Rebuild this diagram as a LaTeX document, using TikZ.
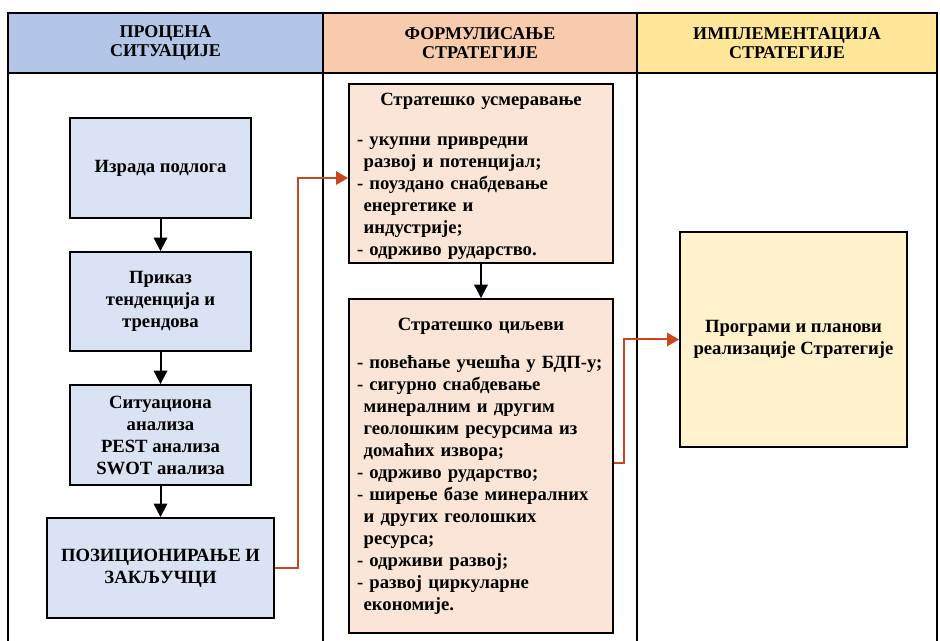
\documentclass[tikz,border=0pt]{standalone}
\usepackage{fontspec}
\setmainfont{Liberation Serif}
\usetikzlibrary{arrows.meta,positioning}

\definecolor{zagPlava}{HTML}{B4C6E7}
\definecolor{zagNarandz}{HTML}{F8CBAD}
\definecolor{zagZuta}{HTML}{FFE699}
\definecolor{kutPlava}{HTML}{DAE3F3}
\definecolor{kutNarandz}{HTML}{FBE5D6}
\definecolor{kutZuta}{HTML}{FFF2CC}
\definecolor{bojaVeze}{HTML}{C9461E}

\newcommand{\stavka}[1]{\par\hangindent=5pt\hangafter=1 - #1}

\begin{document}
\begin{tikzpicture}[x=0.75pt, y=-0.75pt,
    tabela/.style={line width=1.5pt, black},
    zaglavlje/.style={font=\bfseries\fontsize{13.5}{14.3}\selectfont, align=center},
    kutija/.style={draw, line width=1.4pt, font=\bfseries\fontsize{14}{16.5}\selectfont, align=center, inner sep=4pt},
    strelica/.style={line width=1.5pt, -{Triangle[width=10pt,length=10pt]}},
    crvenaVeza/.style={draw=bojaVeze, line width=1.5pt, -{Triangle[width=10pt,length=9pt,fill=bojaVeze]}}]
    \useasboundingbox (0,0) rectangle (940,641);

    % zaglavlje tabele
    \fill[zagPlava] (8,13) rectangle (323,73);
    \fill[zagNarandz] (323,13) rectangle (637,73);
    \fill[zagZuta] (637,13) rectangle (937,73);
    \draw[tabela] (8,645) -- (8,13) -- (937,13) -- (937,645);
    \draw[tabela] (8,73) -- (937,73);
    \draw[tabela] (323,13) -- (323,645);
    \draw[tabela] (637,13) -- (637,645);

    \node[zaglavlje] (z1) at (165.5,43) {ПРОЦЕНА\\СИТУАЦИЈЕ};
    \node[zaglavlje] (z2) at (480,43) {ФОРМУЛИСАЊЕ\\СТРАТЕГИЈЕ};
    \node[zaglavlje] (z3) at (787,43) {ИМПЛЕМЕНТАЦИЈА\\СТРАТЕГИЈЕ};

    % procena situacije
    \node[kutija, fill=kutPlava, minimum width=181*0.75pt, minimum height=100*0.75pt] (podloga) at (160.5,168) {Израда подлога};
    \node[kutija, fill=kutPlava, minimum width=181*0.75pt, minimum height=99*0.75pt] (prikaz) at (160.5,301.5) {Приказ\\тенденција и\\трендова};
    \node[kutija, fill=kutPlava, minimum width=181*0.75pt, minimum height=100*0.75pt] (analiza) at (160.5,435) {Ситуациона\\анализа\\PEST анализа\\SWOT анализа};
    \node[kutija, fill=kutPlava, minimum width=227*0.75pt, minimum height=100*0.75pt] (pozicija) at (160.5,568) {ПОЗИЦИОНИРАЊЕ И\\ЗАКЉУЧЦИ};

    \draw[strelica] (podloga) -- (prikaz);
    \draw[strelica] (prikaz) -- (analiza);
    \draw[strelica] (analiza) -- (pozicija);

    % formulisanje strategije
    \node[kutija, fill=kutNarandz, inner ysep=0pt, minimum width=264*0.75pt, minimum height=179*0.75pt, text width=186pt, align=left] (usmeravanje) at (481,173.5) {\centering\rule{0pt}{13pt}Стратешко усмеравање\par\vspace{13.5pt}\raggedright
        \stavka{укупни привредни\newline развој и потенцијал;}
        \stavka{поуздано снабдевање\newline енергетике и\newline индустрије;}
        \stavka{одрживо рударство.}\par};
    \node[kutija, fill=kutNarandz, minimum width=264*0.75pt, minimum height=334*0.75pt, text width=186pt, align=left] (ciljevi) at (481,466) {\centering Стратешко циљеви\par\vspace{12pt}\raggedright
        \stavka{повећање учешћа у БДП-у;}
        \stavka{сигурно снабдевање\newline минералним и другим\newline геолошким ресурсима из\newline домаћих извора;}
        \stavka{одрживо рударство;}
        \stavka{ширење базе минералних\newline и других геолошких\newline ресурса;}
        \stavka{одрживи развој;}
        \stavka{развој циркуларне\newline економије.}\par};

    \draw[strelica] (usmeravanje) -- (ciljevi);

    % implementacija
    \node[kutija, fill=kutZuta, minimum width=227*0.75pt, minimum height=215*0.75pt] (programi) at (793.5,339.5) {Програми и планови\\реализације Стратегије};

    \draw[crvenaVeza] (pozicija.east) -- ++(23,0) |- ([yshift=-3.4pt]usmeravanje.west);
    \draw[crvenaVeza] ([yshift=2pt]ciljevi.east) -- ++(10,0) |- (programi.west);
\end{tikzpicture}
\end{document}
